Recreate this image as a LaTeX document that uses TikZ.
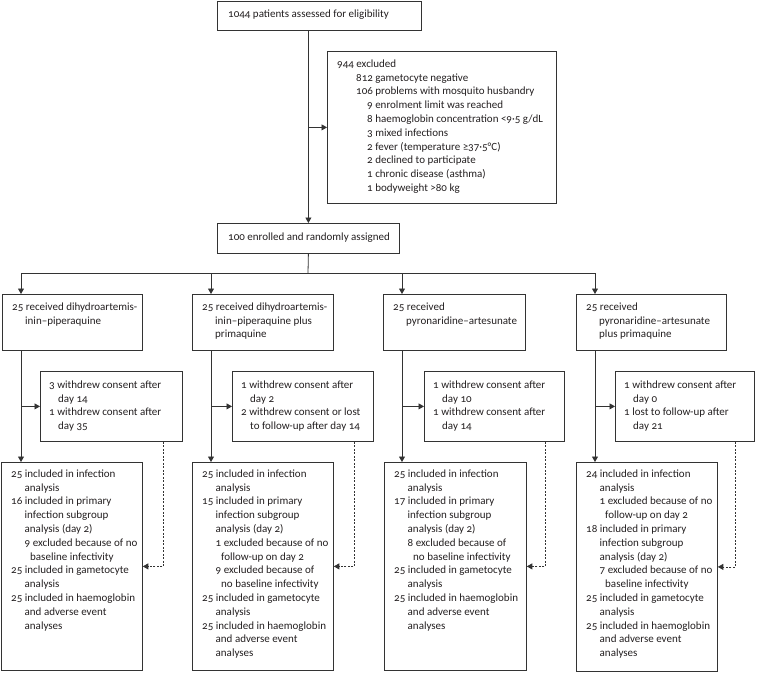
\documentclass[tikz,border=0pt]{standalone}
\usepackage{fontspec}
\setmainfont{Carlito}[Numbers=OldStyle]
\usetikzlibrary{arrows.meta}
\definecolor{ln}{HTML}{333333}
\definecolor{tx}{HTML}{231F20}
\newcommand{\ind}[1]{\hspace*{#1pt}}
\begin{document}
\begin{tikzpicture}[x=1pt,y=-1pt,
  box/.style={draw=ln, line width=0.8pt, inner sep=0pt, anchor=north west},
  txt/.style={anchor=north west, inner sep=0pt, align=left, text=tx, font=\fontsize{11}{13.8}\selectfont},
  arr/.style={draw=ln, line width=0.8pt, -{Triangle[length=5.5pt,width=6pt]}},
  ln/.style={draw=ln, line width=0.8pt},
  darr/.style={arr, dash pattern=on 2pt off 1.5pt}]
\useasboundingbox (0,0) rectangle (757,672);

% top part
\node[box, minimum width=204pt, minimum height=29pt] (top) at (217,1) {};
\node[txt] (toptx) at (228,9.5) {1044 patients assessed for eligibility};

\node[box, minimum width=229pt, minimum height=152pt] (excl) at (327,51) {};
\node[txt] (excltx) at (337,59.5) {944 excluded\\
\ind{19}812 gametocyte negative\\
\ind{19}106 problems with mosquito husbandry\\
\ind{30}9 enrolment limit was reached\\
\ind{30}8 haemoglobin concentration <9·5 g/dL\\
\ind{30}3 mixed infections\\
\ind{30}2 fever (temperature ≥37·5°C)\\
\ind{30}2 declined to participate\\
\ind{30}1 chronic disease (asthma)\\
\ind{30}1 bodyweight >80 kg};

\node[box, minimum width=182pt, minimum height=30pt] (enr) at (217,223) {};
\node[txt] (enrtx) at (228,232.5) {100 enrolled and randomly assigned};

\draw[arr] (enr.north |- top.south) -- (enr.north);
\draw[arr] (enr.north |- excl.west) -- (excl.west);

% column boxes
\node[box, minimum width=140pt, minimum height=56pt] (c1) at (2,294) {};
\node[box, minimum width=141pt, minimum height=56pt] (c2) at (192,294) {};
\node[box, minimum width=142pt, minimum height=56pt] (c3) at (383,294) {};
\node[box, minimum width=150pt, minimum height=56pt] (c4) at (576,294) {};

\node[txt] (c1tx) at (12,302.5) {25 received dihydroartemis-\\\ind{13}inin–piperaquine};
\node[txt] (c2tx) at (202,302.5) {25 received dihydroartemis-\\\ind{13}inin–piperaquine plus\\\ind{13}primaquine};
\node[txt] (c3tx) at (393,302.5) {25 received\\\ind{13}pyronaridine–artesunate};
\node[txt] (c4tx) at (586,302.5) {25 received\\\ind{13}pyronaridine–artesunate\\\ind{13}plus primaquine};

% withdrawn boxes
\node[box, minimum width=142pt, minimum height=70pt] (w1) at (40,371) {};
\node[box, minimum width=141pt, minimum height=70pt] (w2) at (232,371) {};
\node[box, minimum width=140pt, minimum height=70pt] (w3) at (424,371) {};
\node[box, minimum width=139pt, minimum height=70pt] (w4) at (615,371) {};

\node[txt] (w1tx) at (49,380.5) {3 withdrew consent after\\\ind{9}day 14\\1 withdrew consent after\\\ind{9}day 35};
\node[txt] (w2tx) at (241,380.5) {1 withdrew consent after\\\ind{9}day 2\\2 withdrew consent or lost\\\ind{9}to follow-up after day 14};
\node[txt] (w3tx) at (433,380.5) {1 withdrew consent after\\\ind{9}day 10\\1 withdrew consent after\\\ind{9}day 14};
\node[txt] (w4tx) at (624,380.5) {1 withdrew consent after\\\ind{9}day 0\\1 lost to follow-up after\\\ind{9}day 21};

% bottom boxes
\node[box, minimum width=141pt, minimum height=208pt] (b1) at (1,462) {};
\node[box, minimum width=141pt, minimum height=208pt] (b2) at (192,462) {};
\node[box, minimum width=142pt, minimum height=208pt] (b3) at (384,462) {};
\node[box, minimum width=141pt, minimum height=209pt] (b4) at (576,462) {};

\node[txt] (b1tx) at (11,469.5) {25 included in infection\\
\ind{13.5}analysis\\
16 included in primary\\
\ind{13.5}infection subgroup\\
\ind{13.5}analysis (day 2)\\
\ind{13.5}9 excluded because of no\\
\ind{19}baseline infectivity\\
25 included in gametocyte\\
\ind{13.5}analysis\\
25 included in haemoglobin\\
\ind{13.5}and adverse event\\
\ind{13.5}analyses};

\node[txt] (b2tx) at (202,469.5) {25 included in infection\\
\ind{13.5}analysis\\
15 included in primary\\
\ind{13.5}infection subgroup\\
\ind{13.5}analysis (day 2)\\
\ind{13.5}1 excluded because of no\\
\ind{19}follow-up on day 2\\
\ind{13.5}9 excluded because of\\
\ind{19}no baseline infectivity\\
25 included in gametocyte\\
\ind{13.5}analysis\\
25 included in haemoglobin\\
\ind{13.5}and adverse event\\
\ind{13.5}analyses};

\node[txt] (b3tx) at (394,469.5) {25 included in infection\\
\ind{13.5}analysis\\
17 included in primary\\
\ind{13.5}infection subgroup\\
\ind{13.5}analysis (day 2)\\
\ind{13.5}8 excluded because of\\
\ind{19}no baseline infectivity\\
25 included in gametocyte\\
\ind{13.5}analysis\\
25 included in haemoglobin\\
\ind{13.5}and adverse event\\
\ind{13.5}analyses};

\node[txt] (b4tx) at (586,469.5) {24 included in infection\\
\ind{13.5}analysis\\
\ind{13.5}1 excluded because of no\\
\ind{19}follow-up on day 2\\
18 included in primary\\
\ind{13.5}infection subgroup\\
\ind{13.5}analysis (day 2)\\
\ind{13.5}7 excluded because of no\\
\ind{19}baseline infectivity\\
25 included in gametocyte\\
\ind{13.5}analysis\\
25 included in haemoglobin\\
\ind{13.5}and adverse event\\
\ind{13.5}analyses};

% randomisation branches
\coordinate (hb) at (308,273);
\draw[ln] (enr.south) -- (hb);
\draw[ln] ([xshift=19pt]c1.north west |- hb) -- ([xshift=19pt]c4.north west |- hb);
\foreach \c in {c1,c2,c3,c4}{
  \draw[arr] ([xshift=19pt]\c.north west |- hb) -- ([xshift=19pt]\c.north west);
}

% column flows
\foreach \i in {1,2,3,4}{
  \draw[arr] ([xshift=19pt]c\i.south west) coordinate (v\i) -- (v\i |- b\i.north);
  \draw[arr] (v\i |- w\i.west) -- (w\i.west);
  \draw[darr] ([xshift=-19pt]w\i.south east) |- (b\i.east);
}
\end{tikzpicture}
\end{document}
